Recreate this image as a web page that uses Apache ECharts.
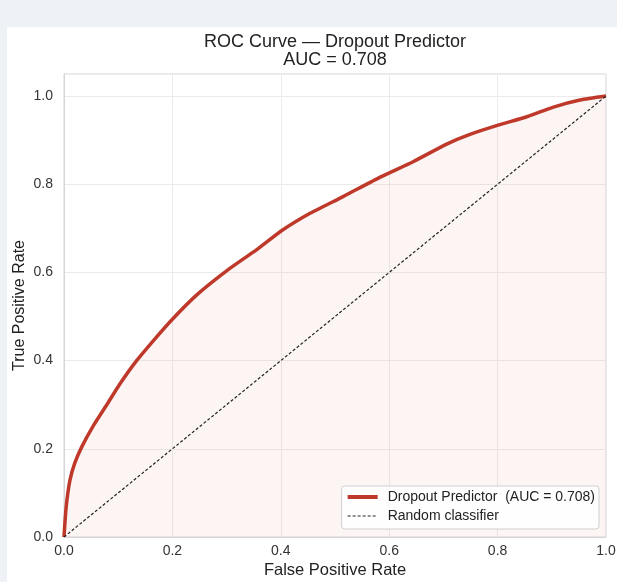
<!DOCTYPE html>
<html>
<head>
<meta charset="utf-8">
<script src="https://cdn.jsdelivr.net/npm/echarts@6/dist/echarts.min.js"></script>
<style>
  html, body { margin: 0; padding: 0; background: #eef2f7; }
  #card { position: absolute; left: 7px; top: 27px; width: 610px; height: 555px; background: #fff; }
  #main { position: absolute; left: 0; top: 0; width: 617px; height: 582px; }
</style>
</head>
<body>
<div id="card"></div>
<div id="main"></div>
<script>
// ROC points
var fpr = [0, 0.004, 0.011, 0.02, 0.033, 0.054, 0.079, 0.103, 0.134, 0.171, 0.2, 0.245, 0.306, 0.355, 0.402, 0.454, 0.515, 0.58, 0.644, 0.706, 0.749, 0.801, 0.854, 0.903, 0.952, 1.0];
var tpr = [0, 0.068, 0.129, 0.168, 0.205, 0.252, 0.3, 0.347, 0.4, 0.454, 0.494, 0.549, 0.609, 0.651, 0.695, 0.734, 0.772, 0.814, 0.851, 0.891, 0.913, 0.934, 0.953, 0.975, 0.991, 1.0];
var diagX = [0, 1];
var diagY = [0, 1];
var auc = 0.708;
var rocName = 'Dropout Predictor  (AUC = ' + auc.toFixed(3) + ')';
var randName = 'Random classifier';

var rocData = fpr.map(function (x, i) { return [x, tpr[i]]; });
var diagData = diagX.map(function (x, i) { return [x, diagY[i]]; });

var font = 'Liberation Sans, Arial, sans-serif';
var myChart = echarts.init(document.getElementById('main'));

function tickFmt(v) {
    //只显示0.2的倍数
    return Math.abs(v * 5 - Math.round(v * 5)) < 1e-6 ? v.toFixed(1) : '';
}

var option = {
    animation: false,
    backgroundColor: 'transparent',
    title: {
        text: 'ROC Curve — Dropout Predictor\nAUC = ' + auc.toFixed(3),
        left: 335,
        top: 33,
        padding: 0,
        textAlign: 'center',
        textStyle: { fontFamily: font, fontSize: 18, fontWeight: 'normal', color: '#222', lineHeight: 18 }
    },
    grid: {
        left: 64, right: 11, top: 74, bottom: 45,
        show: true, borderColor: '#d6d6d6', borderWidth: 1,
        backgroundColor: '#fff',
        outerBoundsMode: 'none'
    },
    legend: {
        orient: 'vertical',
        right: 18,
        bottom: 53,
        padding: [3, 4, 5, 4],
        itemGap: 3,
        itemWidth: 30,
        itemHeight: 12,
        itemStyle: { opacity: 0 },
        backgroundColor: 'rgba(255,255,255,0.9)',
        borderColor: '#d0d0d0',
        borderWidth: 1,
        borderRadius: 3,
        formatter: function (name) { return '{t|' + name + '}'; },
        textStyle: {
            fontFamily: font, fontSize: 14, color: '#222', lineHeight: 16,
            rich: { t: { fontFamily: font, fontSize: 14, color: '#222', lineHeight: 16, padding: [0, 0, 0, 5] } }
        },
        data: [
            { name: rocName, lineStyle: { width: 4, color: '#bf392b' } },
            { name: randName, lineStyle: { width: 1.2, color: '#222', type: [3, 2] } }
        ]
    },
    xAxis: {
        type: 'value',
        min: 0, max: 1, interval: 0.2,
        name: 'False Positive Rate',
        nameLocation: 'middle',
        nameGap: 25,
        nameMoveOverlap: false,
        nameTextStyle: { fontFamily: font, fontSize: 16.5, color: '#222' },
        axisLine: { show: true, lineStyle: { color: '#d6d6d6' } },
        axisTick: { show: false },
        axisLabel: { margin: 7, fontFamily: font, fontSize: 14, color: '#333', formatter: tickFmt },
        splitLine: { show: true, lineStyle: { color: '#ebebeb' } }
    },
    yAxis: {
        type: 'value',
        min: 0, max: 1.05, interval: 0.2,
        name: 'True Positive Rate',
        nameLocation: 'middle',
        nameGap: 36,
        nameMoveOverlap: false,
        nameTextStyle: { fontFamily: font, fontSize: 16, color: '#222' },
        axisLine: { show: true, lineStyle: { color: '#d6d6d6' } },
        axisTick: { show: false },
        axisLabel: { margin: 11, fontFamily: font, fontSize: 14, color: '#333', formatter: tickFmt },
        splitLine: { show: true, lineStyle: { color: '#ebebeb' } }
    },
    series: [
        {
            name: rocName,
            type: 'line',
            data: rocData,
            symbol: 'none',
            smooth: 0.2,
            lineStyle: { color: '#bf392b', width: 3.5 },
            itemStyle: { color: '#bf392b' },
            areaStyle: { color: 'rgba(192,57,43,0.075)' },
            z: 3
        },
        {
            name: randName,
            type: 'line',
            data: diagData,
            symbol: 'none',
            lineStyle: { color: '#222', width: 1.2, type: [3, 2] },
            itemStyle: { color: '#222' },
            z: 4
        }
    ]
};

myChart.setOption(option);
</script>
</body>
</html>
